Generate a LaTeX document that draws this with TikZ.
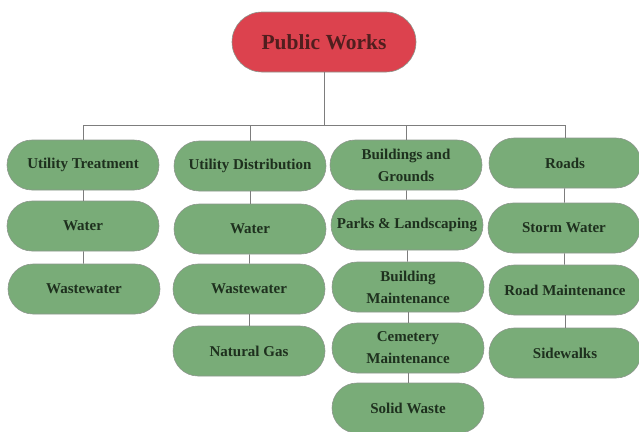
\documentclass[tikz,border=0pt]{standalone}
\usepackage{fontspec}
\setmainfont{Liberation Serif}
\usepackage{tikz}
\usetikzlibrary{calc, positioning}
\definecolor{boxgreen}{RGB}{121,172,120}
\definecolor{boxred}{RGB}{220,66,78}
\definecolor{boxline}{RGB}{140,150,140}
\definecolor{textgreen}{RGB}{30,48,30}
\definecolor{textred}{RGB}{80,30,30}
\definecolor{linkgray}{RGB}{125,125,125}
\tikzset{
  unitbox/.style={draw=boxline, line width=0.6pt, fill=boxgreen, rounded corners=25pt,
    minimum width=152pt, minimum height=50pt, align=center, inner sep=1pt,
    text=textgreen, font=\fontsize{15}{22}\selectfont\bfseries},
  headbox/.style={draw=boxline, line width=0.6pt, fill=boxred, rounded corners=30pt,
    minimum width=184pt, minimum height=60pt, align=center,
    text=textred, font=\fontsize{21.5}{24}\selectfont\bfseries},
  link/.style={draw=linkgray, line width=0.8pt}
}
\begin{document}
\begin{tikzpicture}[x=1pt,y=-1pt]
\useasboundingbox (0,0) rectangle (639,431);
%%
  % Node: head
  \node[headbox] (pw) at (324,42) {Public Works};
  % Column: utility treatment
  \node[unitbox] (ut) at (83,165) {Utility Treatment};
  \node[unitbox] (utw) at (83,226) {Water};
  \node[unitbox] (utww) at (84,289) {Wastewater};
  % Column: utility distribution
  \node[unitbox] (ud) at (250,166) {Utility Distribution};
  \node[unitbox] (udw) at (250,229) {Water};
  \node[unitbox] (udww) at (249,289) {Wastewater};
  \node[unitbox] (udng) at (249,351) {Natural Gas};
  % Column: buildings and grounds
  \node[unitbox] (bg) at (406,165) {Buildings and\\Grounds};
  \node[unitbox] (bgpl) at (407,225) {Parks \& Landscaping};
  \node[unitbox] (bgbm) at (408,287) {Building\\Maintenance};
  \node[unitbox] (bgcm) at (408,348) {Cemetery\\Maintenance};
  \node[unitbox] (bgsw) at (408,408) {Solid Waste};
  % Column: roads
  \node[unitbox] (rd) at (565,163) {Roads};
  \node[unitbox] (rdsw) at (564,228) {Storm Water};
  \node[unitbox] (rdrm) at (565,290) {Road Maintenance};
  \node[unitbox] (rdsd) at (565,353) {Sidewalks};
  % Edge: head -- bus
  \coordinate (bus) at (324,125);
  \draw[link] (pw.south) -- (pw.south |- bus);
  \draw[link] (ut.north) -- (ut.north |- bus) -- (rd.north |- bus) -- (rd.north);
  \draw[link] (ud.north) -- (ud.north |- bus);
  \draw[link] (bg.north) -- (bg.north |- bus);
  % Edge: columns
  \draw[link] (ut) -- (utw);
  \draw[link] (utw) -- (utww);
  \draw[link] (ud) -- (udw);
  \draw[link] (udw) -- (udww);
  \draw[link] (udww) -- (udng);
  \draw[link] (bg) -- (bgpl);
  \draw[link] (bgpl) -- (bgbm);
  \draw[link] (bgbm) -- (bgcm);
  \draw[link] (bgcm) -- (bgsw);
  \draw[link] (rd) -- (rdsw);
  \draw[link] (rdsw) -- (rdrm);
  \draw[link] (rdrm) -- (rdsd);
%
\end{tikzpicture}
\end{document}
